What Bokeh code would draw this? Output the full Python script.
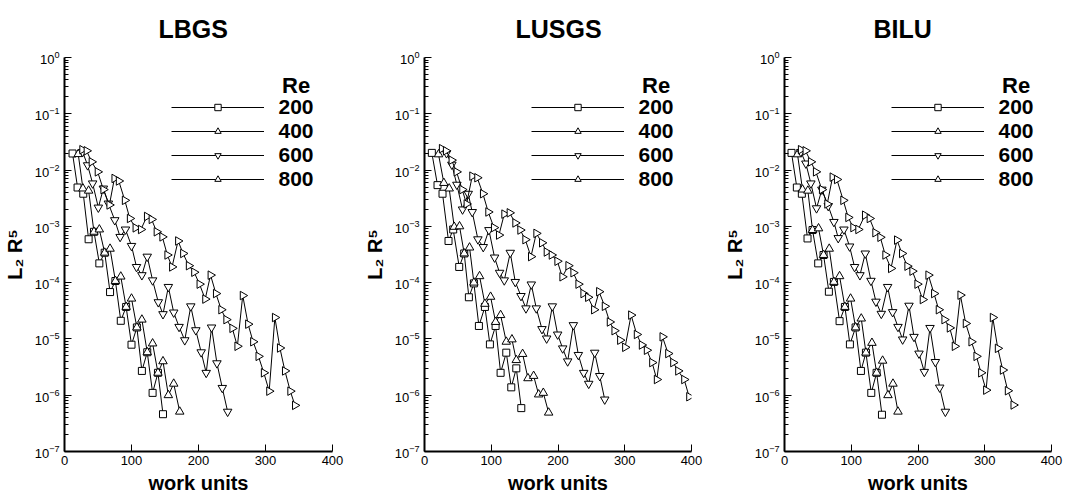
import math

from bokeh.embed import file_html
from bokeh.layouts import row
from bokeh.models import (FixedTicker, Label, Legend, LegendItem,
                          LogTickFormatter, Range1d)
from bokeh.plotting import figure
from bokeh.resources import INLINE

# ---------------------------------------------------------------- data
RE_VALUES = ["200", "400", "600", "800"]
X_TICKS = [0, 100, 200, 300, 400]
Y_TICKS = [1e-7, 1e-6, 1e-5, 1e-4, 1e-3, 1e-2, 1e-1, 1e0]

# LBGS
lbgs_wu_200 = [12, 19.5, 28, 36, 44, 52, 60, 68, 76, 84, 92, 100, 108, 115.5, 123.5, 131.5, 139.5, 147]
lbgs_res_200 = [1.97e-2, 4.9e-3, 3.8e-3, 5.9e-4, 8.0e-4, 2.2e-4, 3.4e-4, 6.8e-5, 1.07e-4, 2.1e-5,
                3.7e-5, 7.9e-6, 1.6e-5, 2.7e-6, 5.8e-6, 1.1e-6, 2.5e-6, 4.6e-7]
lbgs_wu_400 = [20.5, 27.5, 36, 44, 52, 60, 68, 76, 84, 92, 100, 108, 115.5, 123.5, 131.5, 139.5, 147,
               155, 163, 172]
lbgs_res_400 = [1.92e-2, 4.7e-3, 4.3e-3, 8.0e-4, 8.8e-4, 3.4e-4, 4.0e-4, 1.07e-4, 1.28e-4, 3.7e-5,
                5.2e-5, 1.6e-5, 2.2e-5, 5.8e-6, 8.3e-6, 2.5e-6, 4.0e-6, 1.0e-6, 1.6e-6, 5.1e-7]
lbgs_wu_600 = [27, 34.5, 42, 50.5, 58, 65.5, 75, 83, 91, 100, 107.5, 115.5, 123.5, 131.5, 140, 147,
               155, 163, 171, 179.5, 188.5, 196, 204, 211.5, 219.5, 227.5, 235.5, 243.5]
lbgs_res_600 = [2.1e-2, 1.22e-2, 5.8e-3, 2.16e-3, 4.7e-3, 2.55e-3, 1.29e-3, 6.5e-4, 8.8e-4, 4.5e-4,
                1.9e-4, 1.36e-4, 2.9e-4, 1.1e-4, 4.5e-5, 2.76e-5, 8.4e-5, 2.95e-5, 1.64e-5, 9.5e-6,
                3.8e-5, 1.43e-5, 5.8e-6, 2.5e-6, 1.6e-5, 3.7e-6, 1.35e-6, 5.1e-7]
lbgs_wu_800 = [26.5, 33, 40.5, 49.5, 58, 67, 74.5, 81, 90, 97.5, 106, 114, 123, 130, 137.5, 146,
               153.5, 160.5, 169.5, 177, 185.5, 193.5, 201.5, 210, 218, 226, 234, 241.5, 250.5, 258,
               266, 274, 281.5, 289.5, 297.5, 305.5, 314, 321.5, 329, 337, 344]
lbgs_res_800 = [2.3e-2, 2.2e-2, 1.4e-2, 9.3e-3, 4.5e-3, 2.4e-3, 7.1e-3, 6.4e-3, 2.9e-3, 1.38e-3,
                9.4e-4, 8.8e-4, 1.5e-3, 1.33e-3, 8.0e-4, 6.5e-4, 3.1e-4, 1.9e-4, 5.5e-4, 3.3e-4,
                2.0e-4, 1.53e-4, 9.4e-5, 5.1e-5, 1.36e-4, 6.4e-5, 3.3e-5, 2.2e-5, 1.54e-5, 7.4e-6,
                5.9e-5, 1.83e-5, 8.9e-6, 4.9e-6, 2.5e-6, 1.18e-6, 2.4e-5, 6.9e-6, 2.7e-6, 1.18e-6,
                6.6e-7]

# LUSGS
lusgs_wu_200 = [11, 19.5, 27, 36, 43, 52, 59.5, 66.5, 74, 81.5, 90.5, 98, 106.5, 114, 122.5, 130,
                137.5, 145]
lusgs_res_200 = [2.02e-2, 5.4e-3, 3.8e-3, 5.5e-4, 8.8e-4, 1.9e-4, 3.3e-4, 5.5e-5, 9.7e-5, 1.7e-5,
                 3.7e-5, 8.0e-6, 1.7e-5, 2.5e-6, 5.7e-6, 1.38e-6, 3.0e-6, 5.9e-7]
lusgs_wu_400 = [21, 29, 37, 44.5, 52.5, 59.5, 67.5, 74, 82.5, 90.5, 99, 106.5, 114, 122.5, 131,
                137.5, 147, 155, 163.5, 171, 178, 186]
lusgs_res_400 = [1.9e-2, 5.9e-3, 4.7e-3, 9.8e-4, 1.0e-3, 3.3e-4, 4.2e-4, 1.0e-4, 1.3e-4, 4.2e-5,
                 5.6e-5, 2.0e-5, 2.65e-5, 8.9e-6, 9.8e-6, 4.2e-6, 5.4e-6, 2.0e-6, 2.2e-6, 1.03e-6,
                 1.1e-6, 4.9e-7]
lusgs_wu_600 = [33, 41, 48.5, 57, 65.5, 71.5, 80, 88, 96.5, 105, 112.5, 119.5, 128.5, 136, 144.5,
                152, 160, 167.5, 176, 183, 191.5, 199.5, 207, 214.5, 223, 230.5, 238.5, 246, 255,
                262.5, 270]
lusgs_res_600 = [2.0e-2, 1.25e-2, 5.5e-3, 2.0e-3, 3.8e-3, 1.8e-3, 5.9e-4, 4.3e-4, 8.6e-4, 2.8e-4,
                 1.5e-4, 1.1e-4, 3.4e-4, 1.03e-4, 5.8e-5, 3.5e-5, 9.3e-5, 3.5e-5, 1.5e-5, 1.02e-5,
                 3.8e-5, 1.2e-5, 6.8e-6, 4.0e-6, 1.76e-5, 5.2e-6, 2.5e-6, 1.6e-6, 5.7e-6, 2.2e-6,
                 8.4e-7]
lusgs_wu_800 = [26, 32, 40.5, 48, 56.5, 63, 71.5, 79, 87.5, 95.5, 104, 111.5, 119.5, 127.5, 136,
                143.5, 151, 159.5, 167.5, 176, 183, 190.5, 199, 206.5, 215.5, 223, 230.5, 238, 245,
                254, 261.5, 270, 277.5, 284.5, 293, 300.5, 309.5, 318, 325.5, 333, 341, 348, 356.5,
                365, 372.5, 380, 389, 396.5]
lusgs_res_800 = [2.4e-2, 2.2e-2, 1.5e-2, 9.3e-3, 4.5e-3, 2.5e-3, 7.8e-3, 7.3e-3, 3.8e-3, 1.8e-3,
                 9.5e-4, 7.0e-4, 1.65e-3, 1.74e-3, 1.15e-3, 8.6e-4, 5.8e-4, 2.9e-4, 7.5e-4, 5.1e-4,
                 3.5e-4, 3.1e-4, 2.4e-4, 1.27e-4, 2.0e-4, 1.5e-4, 9.4e-5, 6.4e-5, 5.5e-5, 3.3e-5,
                 6.9e-5, 3.8e-5, 2.0e-5, 1.4e-5, 9.5e-6, 7.1e-6, 2.65e-5, 1.2e-5, 7.8e-6, 6.3e-6,
                 3.8e-6, 1.9e-6, 1.09e-5, 5.5e-6, 3.8e-6, 2.7e-6, 1.9e-6, 9.4e-7]

# BILU
bilu_wu_200 = [10.5, 18.5, 26, 34.5, 42, 50.5, 58.5, 66.5, 74, 82.5, 90.5, 98, 106.5, 114.5, 122,
               130, 138, 146]
bilu_res_200 = [2.02e-2, 4.9e-3, 3.8e-3, 6.1e-4, 8.6e-4, 2.2e-4, 3.1e-4, 6.9e-5, 1.03e-4, 2.07e-5,
                3.7e-5, 8.0e-6, 1.6e-5, 2.7e-6, 5.7e-6, 1.1e-6, 2.5e-6, 4.5e-7]
bilu_wu_400 = [19.5, 27, 35, 42, 51, 58.5, 67, 74, 82.5, 90.5, 99, 106.5, 115, 122, 131, 138, 147,
               155, 162.5, 170]
bilu_res_400 = [1.9e-2, 4.5e-3, 4.3e-3, 8.6e-4, 9.2e-4, 3.1e-4, 4.0e-4, 1.03e-4, 1.3e-4, 3.7e-5,
                5.2e-5, 1.6e-5, 2.3e-5, 5.7e-6, 8.5e-6, 2.5e-6, 4.1e-6, 1.0e-6, 1.6e-6, 5.1e-7]
bilu_wu_600 = [24.5, 32, 39.5, 48, 56, 65.5, 74, 80.5, 89, 97.5, 105, 113, 121, 129.5, 137, 145,
               154.5, 162, 170, 177, 186.5, 194, 201.5, 209.5, 218, 226, 232.5, 241]
bilu_res_600 = [2.1e-2, 1.31e-2, 5.8e-3, 2.1e-3, 4.5e-3, 2.3e-3, 1.2e-3, 6.2e-4, 8.8e-4, 4.4e-4,
                1.9e-4, 1.36e-4, 3.3e-4, 1.08e-4, 4.6e-5, 2.8e-5, 8.4e-5, 3.0e-5, 1.64e-5, 9.8e-6,
                3.9e-5, 1.09e-5, 5.5e-6, 2.6e-6, 1.57e-5, 3.9e-6, 1.37e-6, 5.1e-7]
bilu_wu_800 = [24.5, 31.5, 39.5, 47, 56, 64, 72, 78.5, 88, 95.5, 103, 110.5, 120.5, 127.5, 136,
               143.5, 151, 159.5, 168.5, 176, 184, 191.5, 199, 207, 215.5, 224, 231, 239.5, 247.5,
               255, 263.5, 271.5, 280, 287.5, 294.5, 302, 312, 319.5, 327, 334.5, 343]
bilu_res_800 = [2.3e-2, 2.2e-2, 1.4e-2, 9.3e-3, 4.5e-3, 2.5e-3, 7.5e-3, 6.8e-3, 2.9e-3, 1.44e-3,
                9.5e-4, 8.8e-4, 1.58e-3, 1.38e-3, 7.7e-4, 6.4e-4, 3.1e-4, 1.79e-4, 5.7e-4, 3.3e-4,
                1.96e-4, 1.6e-4, 9.4e-5, 5.0e-5, 1.36e-4, 6.4e-5, 3.3e-5, 2.2e-5, 1.57e-5, 7.4e-6,
                6.0e-5, 1.88e-5, 8.9e-6, 4.9e-6, 2.5e-6, 1.23e-6, 2.4e-5, 6.8e-6, 2.8e-6, 1.2e-6,
                6.7e-7]

PANELS = [
    ("LBGS", {"200": (lbgs_wu_200, lbgs_res_200), "400": (lbgs_wu_400, lbgs_res_400),
              "600": (lbgs_wu_600, lbgs_res_600), "800": (lbgs_wu_800, lbgs_res_800)}),
    ("LUSGS", {"200": (lusgs_wu_200, lusgs_res_200), "400": (lusgs_wu_400, lusgs_res_400),
               "600": (lusgs_wu_600, lusgs_res_600), "800": (lusgs_wu_800, lusgs_res_800)}),
    ("BILU", {"200": (bilu_wu_200, bilu_res_200), "400": (bilu_wu_400, bilu_res_400),
              "600": (bilu_wu_600, bilu_res_600), "800": (bilu_wu_800, bilu_res_800)}),
]

# ---------------------------------------------------------------- style
FONT = "Liberation Sans"
HEIGHT = 498
BORDER_TOP = 57
BORDER_BOTTOM = 47
FRAME_W = 269

# marker, rotation, size per Reynolds number
MARKERS = {
    "200": ("square", 0.0, 7),
    "400": ("triangle", 0.0, 8.5),
    "600": ("inverted_triangle", 0.0, 8.5),
    "800": ("triangle", -math.pi / 2, 8.5),
}

minor_y = [m * t for t in Y_TICKS[:-1] for m in range(2, 10)]


def make_panel(name, series, width, left, title_offset):
    right = width - left - FRAME_W
    p = figure(width=width, height=HEIGHT, x_range=Range1d(0, 400),
               y_range=Range1d(1e-7, 1), y_axis_type="log",
               output_backend="svg", toolbar_location=None,
               min_border_left=left, min_border_right=right,
               min_border_top=BORDER_TOP, min_border_bottom=BORDER_BOTTOM)
    p.outline_line_color = None
    p.xgrid.grid_line_color = None
    p.ygrid.grid_line_color = None

    # panel heading
    p.title.text = name
    p.title.align = "left"
    p.title.offset = title_offset
    p.title.vertical_align = "top"
    p.title.text_font = FONT
    p.title.text_font_style = "bold"
    p.title.text_font_size = "25px"
    p.title.text_color = "black"
    p.title.standoff = 26

    xa = p.xaxis[0]
    xa.ticker = FixedTicker(ticks=X_TICKS)
    xa.axis_line_width = 2
    xa.major_tick_in = 7
    xa.major_tick_out = 0
    xa.major_tick_line_width = 1
    xa.minor_tick_line_color = None
    xa.major_label_text_font = FONT
    xa.major_label_text_font_size = "13px"
    xa.major_label_text_color = "black"
    xa.major_label_standoff = 4
    xa.axis_label = "work units"
    xa.axis_label_text_font = FONT
    xa.axis_label_text_font_style = "bold"
    xa.axis_label_text_font_size = "20px"
    xa.axis_label_text_color = "black"
    xa.axis_label_standoff = 4

    ya = p.yaxis[0]
    ya.ticker = FixedTicker(ticks=Y_TICKS, minor_ticks=minor_y)
    ya.formatter = LogTickFormatter()
    ya.axis_line_width = 2
    ya.major_tick_in = 7
    ya.major_tick_out = 0
    ya.minor_tick_in = 4
    ya.minor_tick_out = 0
    ya.major_label_text_font = FONT
    ya.major_label_text_font_size = "13px"
    ya.major_label_text_color = "black"
    ya.major_label_standoff = 5
    ya.axis_label = "L\u2082 R\u2075"
    ya.axis_label_text_font = FONT
    ya.axis_label_text_font_style = "bold"
    ya.axis_label_text_font_size = "20px"
    ya.axis_label_text_color = "black"
    ya.axis_label_standoff = 6

    items = []
    for re in RE_VALUES:
        wu, res = series[re]
        marker, angle, size = MARKERS[re]
        ln = p.line(wu, res, line_color="black", line_width=1)
        sc = p.scatter(wu, res, marker=marker, angle=angle, size=size,
                       line_color="black", line_width=1, fill_color="white")
        items.append(LegendItem(label=re, renderers=[ln, sc]))

    legend = Legend(items=items, location=(106.5, 260.5), orientation="vertical",
                    glyph_width=93, glyph_height=16, label_height=24, spacing=0,
                    padding=0, margin=0, label_standoff=15,
                    label_text_font=FONT, label_text_font_style="bold",
                    label_text_font_size="21px", label_text_color="black",
                    border_line_color=None, background_fill_alpha=0)
    p.add_layout(legend)

    # legend heading
    p.add_layout(Label(x=217.5, y=366.5, x_units="screen", y_units="screen", text="Re",
                       text_font=FONT, text_font_style="bold", text_font_size="22px",
                       text_align="left", text_baseline="alphabetic", text_color="black"))
    return p


p1 = make_panel(PANELS[0][0], PANELS[0][1], 360, 63, 94)
p2 = make_panel(PANELS[1][0], PANELS[1][1], 360, 62, 91)
p3 = make_panel(PANELS[2][0], PANELS[2][1], 345, 62, 89)

layout = row(p1, p2, p3)
open("out.html", "w").write(file_html(layout, INLINE))
